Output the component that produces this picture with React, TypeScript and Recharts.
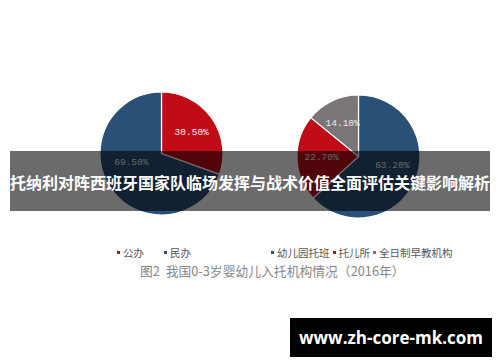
import React from 'react';
import { PieChart, Pie, Cell } from 'recharts';

// left pie: 公办 / 民办
const leftNames = ['公办', '民办'];
const leftValues = [30.5, 69.5];
const leftColors = ['#c10b16', '#2a5075'];

// right pie: 入托机构
const rightNames = ['幼儿园托班', '托儿所', '全日制早教机构'];
const rightValues = [63.2, 22.7, 14.1];
const rightColors = ['#2a5075', '#c10b16', '#7b7575'];

const title = '托纳利对阵西班牙国家队临场发挥与战术价值全面评估关键影响解析';
const caption = '图2  我国0-3岁婴幼儿入托机构情况（2016年）';
const site = 'www.zh-core-mk.com';

const leftData = leftNames.map((name, i) => ({ name, value: leftValues[i] }));
const rightData = rightNames.map((name, i) => ({ name, value: rightValues[i] }));

const RAD = Math.PI / 180;

const renderLabel = (props: any) => {
  const { cx, cy, midAngle, outerRadius, value } = props;
  const r = outerRadius * 0.6;
  const x = cx + r * Math.cos(-midAngle * RAD);
  // keep labels out of the banner text below the centre
  const y = Math.min(cy + r * Math.sin(-midAngle * RAD), cy + 9);
  return (
    <text
      x={x}
      y={y}
      fill="#ececec"
      fontSize={9.5}
      fontFamily="'Liberation Mono', monospace"
      textAnchor="middle"
      dominantBaseline="central"
    >
      {value.toFixed(2) + '%'}
    </text>
  );
};

const LegendItem = ({ color, label, gap }: { color: string; label: string; gap: number }) => (
  <span style={{ display: 'inline-flex', alignItems: 'center', marginRight: gap }}>
    <span style={{ width: 3, height: 3, background: color, marginRight: 3, display: 'inline-block' }} />
    <span>{label}</span>
  </span>
);

const legendText: React.CSSProperties = {
  position: 'absolute',
  top: 243,
  fontSize: 10.5,
  lineHeight: '14px',
  color: '#555',
  fontFamily: "'Noto Sans CJK SC', sans-serif",
  whiteSpace: 'nowrap',
};

export default function App() {
  return (
    <div
      style={{
        position: 'absolute',
        left: 0,
        top: 0,
        width: 500,
        height: 362,
        background: '#fff',
        overflow: 'hidden',
      }}
    >
      <PieChart width={500} height={362} margin={{ top: 0, right: 0, bottom: 0, left: 0 }}>
        <Pie
          data={leftData}
          dataKey="value"
          cx={161.5}
          cy={153.5}
          outerRadius={61.5}
          startAngle={90}
          endAngle={-270}
          stroke="#fff"
          strokeWidth={1.2}
          label={renderLabel}
          labelLine={false}
          isAnimationActive={false}
        >
          {leftData.map((d, i) => (
            <Cell key={d.name} fill={leftColors[i]} />
          ))}
        </Pie>
        <Pie
          data={rightData}
          dataKey="value"
          cx={358.5}
          cy={156.5}
          outerRadius={61.5}
          startAngle={90}
          endAngle={-270}
          stroke="#fff"
          strokeWidth={1.2}
          label={renderLabel}
          labelLine={false}
          isAnimationActive={false}
        >
          {rightData.map((d, i) => (
            <Cell key={d.name} fill={rightColors[i]} />
          ))}
        </Pie>
      </PieChart>

      <div style={{ ...legendText, left: 117 }}>
        {leftData.map((d, i) => (
          <LegendItem key={d.name} color={leftColors[i]} label={d.name} gap={20} />
        ))}
      </div>
      <div style={{ ...legendText, left: 271 }}>
        {rightData.map((d, i) => (
          <LegendItem key={d.name} color={rightColors[i]} label={d.name} gap={3} />
        ))}
      </div>

      <div
        style={{
          position: 'absolute',
          left: 140,
          top: 262,
          fontSize: 12.8,
          lineHeight: '18px',
          color: '#888',
          fontFamily: "'Noto Sans CJK SC', sans-serif",
          whiteSpace: 'pre',
        }}
      >
        {caption}
      </div>

      <div
        style={{
          position: 'absolute',
          left: 10,
          top: 151,
          width: 480,
          height: 60,
          background: 'rgba(0,0,0,0.58)',
          color: '#fff',
          fontSize: 16,
          fontWeight: 700,
          fontFamily: "'Noto Sans CJK SC', sans-serif",
          lineHeight: '62px',
          textAlign: 'center',
          whiteSpace: 'nowrap',
        }}
      >
        {title}
      </div>

      <div
        style={{
          position: 'absolute',
          left: 290,
          top: 318,
          width: 202,
          height: 39,
          background: '#000',
          color: '#fff',
          fontSize: 17,
          fontWeight: 700,
          fontFamily: "'Open Sans', sans-serif",
          lineHeight: '39px',
          textAlign: 'center',
        }}
      >
        {site}
      </div>
    </div>
  );
}
